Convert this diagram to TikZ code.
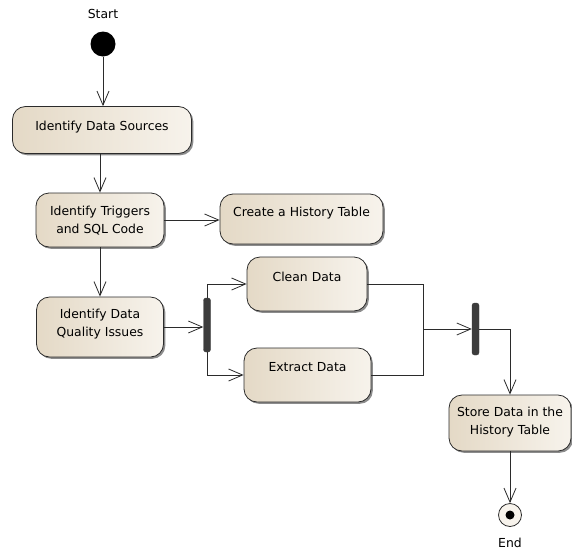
\documentclass[tikz,border=0pt]{standalone}
\usepackage{fontspec}
\setmainfont{DejaVu Sans}
\usetikzlibrary{arrows.meta,shadows}
\definecolor{boxL}{HTML}{E4D9C6}
\definecolor{boxR}{HTML}{F7F3EC}
\definecolor{edgec}{HTML}{2B2B2B}
\definecolor{barc}{HTML}{3C3C3C}
\begin{document}
\begin{tikzpicture}[x=1pt,y=-1pt,
  every node/.style={font=\fontsize{12.4}{18}\selectfont, text=black},
  act/.style={draw=edgec, line width=0.8pt, rounded corners=13pt, left color=boxL, right color=boxR,
    drop shadow={shadow xshift=1.8pt, shadow yshift=-1.8pt, fill=black, opacity=0.45}, inner sep=0pt},
  lbl/.style={align=center, inner sep=0pt},
  barnode/.style={fill=barc, draw=barc, rounded corners=2.5pt, minimum width=7pt, inner sep=0pt},
  flow/.style={draw=edgec, line width=0.8pt, -{Straight Barb[length=14pt,width=12pt,line width=0.8pt]}},
  plain/.style={draw=edgec, line width=0.8pt}]
\useasboundingbox (0,0) rectangle (572,552);
% start
\node[lbl] (startlbl) at (103,14) {Start};
\node[circle, fill=black, minimum size=25pt, inner sep=0pt] (start) at (103,44) {};
% activities
\node[act, minimum width=179pt, minimum height=47pt] (sources) at (102,130) {};
\node[lbl] (tsources) at (102,127) {Identify Data Sources};
\node[act, minimum width=128pt, minimum height=54pt] (triggers) at (100,220) {};
\node[lbl] (ttriggers) at (100,221) {Identify Triggers\\and SQL Code};
\node[act, minimum width=163pt, minimum height=50pt] (create) at (301.5,219) {};
\node[lbl] (tcreate) at (301.5,213) {Create a History Table};
\node[act, minimum width=127pt, minimum height=60pt] (quality) at (100,327) {};
\node[lbl] (tquality) at (100,324) {Identify Data\\Quality Issues};
\node[act, minimum width=120pt, minimum height=54pt] (clean) at (307,284) {};
\node[lbl] (tclean) at (307,277) {Clean Data};
\node[act, minimum width=127pt, minimum height=54pt] (extract) at (307.5,375) {};
\node[lbl] (textract) at (307.5,367) {Extract Data};
\node[act, minimum width=122pt, minimum height=56pt] (store) at (510,423) {};
\node[lbl] (tstore) at (510,422.5) {Store Data in the\\History Table};
% bars
\node[barnode, minimum height=54pt] (fork) at (207,325) {};
\node[barnode, minimum height=52pt] (join) at (475.5,329) {};
% end
\node[circle, draw=edgec, fill=boxR, line width=0.8pt, minimum size=23pt, inner sep=0pt] (end) at (510,515) {};
\node[circle, fill=black, minimum size=9pt, inner sep=0pt] (enddot) at (end) {};
\node[lbl] (endlbl) at (510,543) {End};
% connectors
\draw[flow] (start.south) -- (start.south |- sources.north);
\draw[flow] (sources.south -| triggers.north) -- (triggers.north);
\draw[flow] (triggers.east) -- (triggers.east -| create.west);
\draw[flow] (triggers.south) -- (triggers.south |- quality.north);
\draw[flow] (quality.east) -- (quality.east -| fork.west);
\draw[flow] (fork.north) |- (clean.west);
\draw[flow] (fork.south) |- (extract.west);
\coordinate (merge) at (423,329);
\draw[plain] (clean.east) -| (merge);
\draw[plain] (extract.east) -| (merge);
\draw[flow] (merge) -- (merge -| join.west);
\draw[flow] (join.east) -| (store.north);
\draw[flow] (store.south) -- (store.south |- end.north);
\end{tikzpicture}
\end{document}
